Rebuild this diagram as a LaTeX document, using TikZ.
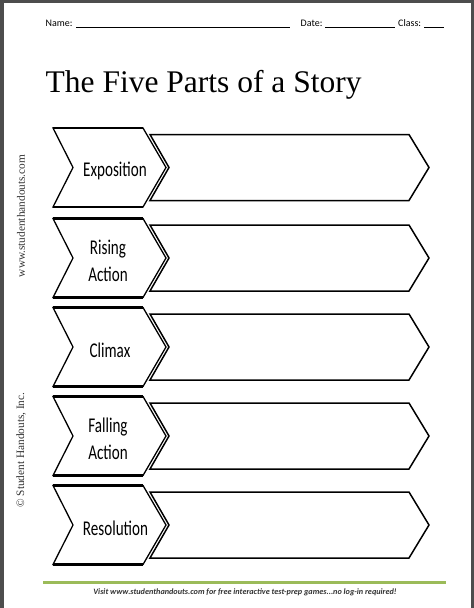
\documentclass[tikz,border=0pt]{standalone}
\usepackage{fontspec}
\usepackage{tikz}
\setmainfont{Liberation Serif}
\newfontfamily\headfont{Carlito}
\newfontfamily\partfont[FakeStretch=0.72]{Carlito}
\definecolor{pagegray}{HTML}{4D4D4D}
\definecolor{footgreen}{HTML}{9BBB59}
\definecolor{inkgray}{HTML}{333333}

\begin{document}
\begin{tikzpicture}[x=1pt,y=-1pt,
	chev/.style={draw=black,fill=white,line width=1.3pt,line join=miter},
	answerbox/.style={draw=black,fill=white,line width=1.5pt},
	partlabel/.style={font=\partfont\fontsize{21}{27}\selectfont,align=center,inner sep=0pt},
	headtext/.style={font=\headfont\fontsize{10}{12}\selectfont,anchor=base west,inner sep=0pt},
	sidetext/.style={font=\fontsize{11.3}{13}\selectfont,text=inkgray,rotate=90,inner sep=0pt}]
	\useasboundingbox (0,0) rectangle (474,608);
	\fill[pagegray] (0,0) rectangle (474,608);
	\fill[white] (4,3) rectangle (471,608);
	% header
	\node[headtext] (name) at (45.5,26) {Name:};
	\node[headtext] (date) at (300.5,26) {Date:};
	\node[headtext] (class) at (398,26) {Class:};
	\draw[line width=1pt] (76,27) -- (290,27) (325,27) -- (395,27) (424,27) -- (444,27);
	\node[anchor=base west,inner sep=0pt,font=\fontsize{31.5}{36}\selectfont] (title) at (45.5,92) {The Five Parts of a Story};
	\node[sidetext] (site) at (21,216) {www.studenthandouts.com};
	\node[sidetext] (copy) at (21,450) {\textcopyright{} Student Handouts, Inc.};
	% five rows
	\foreach \cy/\lx/\part/\txt in {167.5/115/expo/Exposition, 258/108/rising/{Rising\\Action}, 347/110/climax/Climax, 436/108/falling/{Falling\\Action}, 525/115.5/resol/Resolution}
	{
		\draw[answerbox] (150,\cy-33) -- (409,\cy-33) -- (429,\cy) -- (409,\cy+33) -- (150,\cy+33) -- (169,\cy) -- cycle;
		\draw[chev] (53,\cy-39.5) -- (143,\cy-39.5) -- (166,\cy) -- (143,\cy+39.5) -- (53,\cy+39.5) -- (73,\cy) -- cycle;
		\draw[line width=2.4pt] (53,\cy-39.5) -- (143,\cy-39.5) (53,\cy+39.5) -- (143,\cy+39.5);
		\node[partlabel] (\part) at (\lx,\cy+3) {\txt};
	}
	% footer
	\draw[footgreen,line width=3pt] (43,582) -- (446,582);
	\node[font=\headfont\bfseries\itshape\fontsize{8.2}{10}\selectfont,text=inkgray,inner sep=0pt] (visit) at (245,592) {Visit www.studenthandouts.com for free interactive test-prep games...no log-in required!};
\end{tikzpicture}
\end{document}
